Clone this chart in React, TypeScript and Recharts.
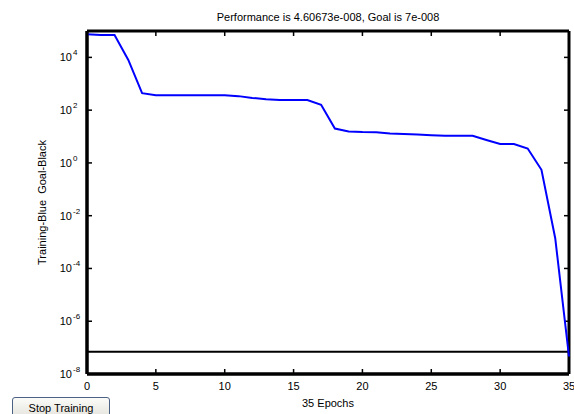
import { LineChart, Line, XAxis, YAxis, ReferenceLine, Label } from "recharts";

// Training performance plot (MATLAB-style box axes, ticks on all four sides).
const epochs = [
  0, 1, 2, 3, 4, 5, 6, 7, 8, 9, 10, 11, 12, 13, 14, 15, 16, 17, 18, 19, 20, 21,
  22, 23, 24, 25, 26, 27, 28, 29, 30, 31, 32, 33, 34, 35,
];
const performance = [
  7.6e4, 7.0e4, 7.0e4, 8.0e3, 4.4e2, 3.7e2, 3.7e2, 3.7e2, 3.7e2, 3.7e2, 3.7e2,
  3.4e2, 2.9e2, 2.6e2, 2.4e2, 2.4e2, 2.4e2, 1.6e2, 20, 15.5, 14.8, 14.6, 13,
  12.6, 12, 11.3, 10.7, 10.7, 10.7, 7.4, 5.2, 5.2, 3.5, 0.55, 1.4e-3, 4.60673e-8,
];
const goal = 7e-8;
const xTicks = [0, 5, 10, 15, 20, 25, 30, 35];
const yTicks = [1e-8, 1e-6, 1e-4, 1e-2, 1, 1e2, 1e4];
const xDomain = [0, 35];
const yDomain = [1e-8, 1e5];
const title = "Performance is 4.60673e-008, Goal is 7e-008";
const xLabel = "35 Epochs";
const yLabel = "Training-Blue  Goal-Black";

const data = epochs.map((e, i) => ({ epoch: e, perf: performance[i] }));

const FONT = "'Liberation Sans', Arial, sans-serif";
const TICK = 5;

function BottomTick({ x, y, payload }: any) {
  return (
    <text x={x} y={y + 16} textAnchor="middle" fontSize={11} fontFamily={FONT} fill="#000">
      {payload.value}
    </text>
  );
}

function LeftTick({ x, y, payload }: any) {
  const exp = Math.round(Math.log10(payload.value));
  return (
    <g>
      <text x={x - 15} y={y + 4} textAnchor="end" fontSize={11} fontFamily={FONT} fill="#000">
        10
      </text>
      <text x={x - 14} y={y - 2} textAnchor="start" fontSize={8} fontFamily={FONT} fill="#000">
        {exp}
      </text>
    </g>
  );
}

// inner tick marks drawn at both ends of an invisible reference line
const vTicks = ({ viewBox }: any) => (
  <g>
    <rect x={viewBox.x - 0.75} y={viewBox.y} width={1.5} height={TICK} fill="#000" />
    <rect
      x={viewBox.x - 0.75}
      y={viewBox.y + viewBox.height - TICK}
      width={1.5}
      height={TICK}
      fill="#000"
    />
  </g>
);

const hTicks = ({ viewBox }: any) => (
  <g>
    <rect x={viewBox.x} y={viewBox.y - 0.75} width={TICK} height={1.5} fill="#000" />
    <rect
      x={viewBox.x + viewBox.width - TICK}
      y={viewBox.y - 0.75}
      width={TICK}
      height={1.5}
      fill="#000"
    />
  </g>
);

// plot frame drawn from the top reference line's box, plus the title
const frameAndTitle = ({ viewBox }: any) => (
  <g>
    <text
      x={viewBox.x + viewBox.width / 2}
      y={viewBox.y - 10}
      textAnchor="middle"
      fontSize={11}
      fontFamily={FONT}
      fill="#000"
    >
      {title}
    </text>
  </g>
);

export default function App() {
  return (
    <div style={{ position: "absolute", left: 0, top: 0, width: 574, height: 414, background: "#fff" }}>
      <LineChart
        width={574}
        height={414}
        data={data}
        margin={{ top: 31, right: 5, bottom: 0, left: 27 }}
      >
        <XAxis
          dataKey="epoch"
          type="number"
          domain={xDomain}
          ticks={xTicks}
          height={40}
          tickSize={0}
          tickMargin={0}
          tickLine={false}
          axisLine={{ stroke: "#000", strokeWidth: 3 }}
          tick={<BottomTick />}
          interval={0}
        >
          <Label
            content={({ viewBox }: any) => (
              <text
                x={viewBox.x + viewBox.width / 2}
                y={viewBox.y + 33}
                textAnchor="middle"
                fontSize={11}
                fontFamily={FONT}
                fill="#000"
              >
                {xLabel}
              </text>
            )}
          />
        </XAxis>
        <YAxis
          scale="log"
          domain={yDomain}
          allowDataOverflow
          ticks={yTicks}
          width={60}
          tickSize={0}
          tickMargin={0}
          tickLine={false}
          axisLine={{ stroke: "#000", strokeWidth: 3 }}
          tick={<LeftTick />}
          interval={0}
        >
          <Label
            content={({ viewBox }: any) => {
              const cx = 45.5;
              const cy = viewBox.y + viewBox.height / 2;
              return (
                <text
                  x={cx}
                  y={cy}
                  transform={`rotate(-90 ${cx} ${cy})`}
                  textAnchor="middle"
                  fontSize={11}
                  fontFamily={FONT}
                  fill="#000"
                  style={{ whiteSpace: "pre" }}
                >
                  {yLabel}
                </text>
              );
            }}
          />
        </YAxis>
        {xTicks.map((t) => (
          <ReferenceLine key={`xt${t}`} x={t} stroke="none">
            <Label content={vTicks} />
          </ReferenceLine>
        ))}
        {yTicks.map((t) => (
          <ReferenceLine key={`yt${t}`} y={t} stroke="none">
            <Label content={hTicks} />
          </ReferenceLine>
        ))}
        <ReferenceLine x={xDomain[0]} stroke="#000" strokeWidth={3} />
        <ReferenceLine x={xDomain[1]} stroke="#000" strokeWidth={3} />
        <ReferenceLine y={yDomain[0]} stroke="#000" strokeWidth={3} />
        <ReferenceLine y={yDomain[1]} stroke="#000" strokeWidth={3}>
          <Label content={frameAndTitle} />
        </ReferenceLine>
        <ReferenceLine y={goal} stroke="#000" strokeWidth={2} />
        <Line
          dataKey="perf"
          stroke="#0000ff"
          strokeWidth={2}
          dot={false}
          isAnimationActive={false}
        />
      </LineChart>
      <button
        style={{
          position: "absolute",
          left: 12,
          top: 397,
          width: 98,
          height: 22,
          padding: 0,
          fontSize: 11,
          fontFamily: FONT,
          color: "#000",
          background: "linear-gradient(#fbfbf8, #e4e3dc)",
          border: "1px solid #4d6185",
          borderRadius: 3,
          textAlign: "center",
          lineHeight: "18px",
          verticalAlign: "top",
        }}
      >
        Stop Training
      </button>
    </div>
  );
}
